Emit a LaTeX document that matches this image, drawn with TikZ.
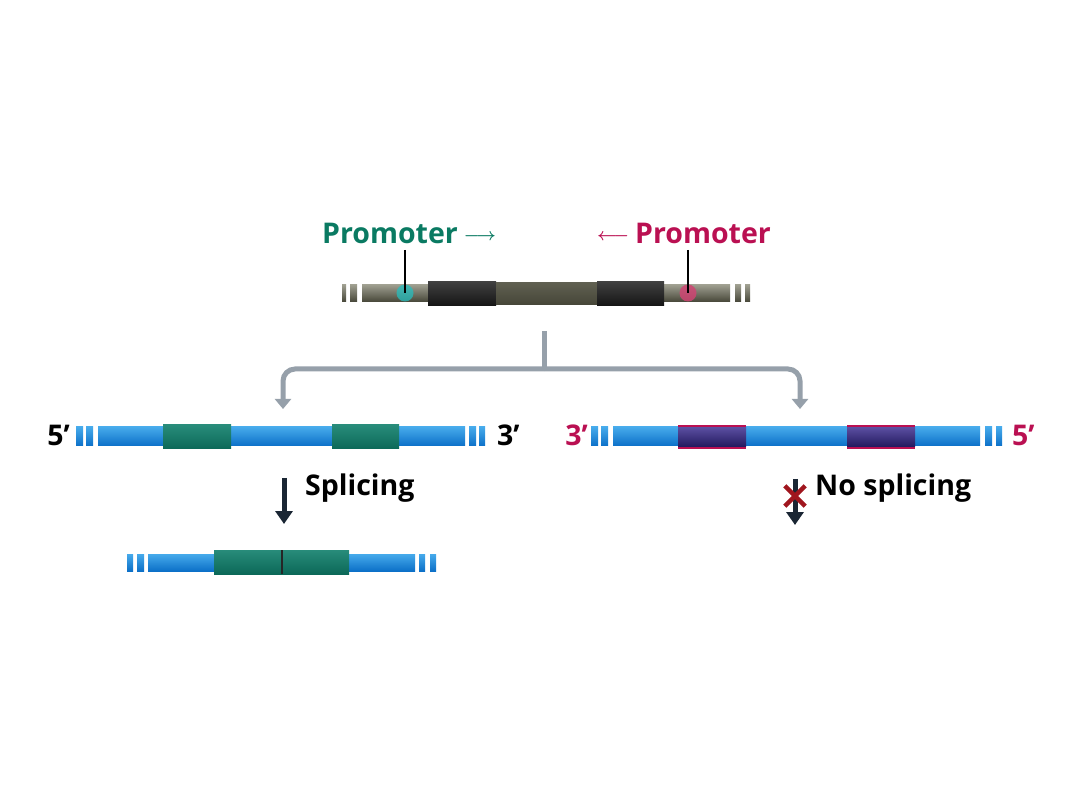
\documentclass[tikz,border=0pt]{standalone}
\usepackage{fontspec}
\setmainfont{Open Sans}
\usetikzlibrary{arrows.meta,positioning}
\definecolor{promgreen}{RGB}{10,122,98}
\definecolor{prommag}{RGB}{186,16,82}
\definecolor{rnaL}{RGB}{70,170,235}
\definecolor{rnaM}{RGB}{36,146,222}
\definecolor{rnaD}{RGB}{12,112,200}
\definecolor{exgL}{RGB}{40,140,122}
\definecolor{exgD}{RGB}{12,104,88}
\definecolor{expL}{RGB}{90,78,160}
\definecolor{expD}{RGB}{36,26,96}
\definecolor{dnaL}{RGB}{196,196,178}
\definecolor{dnaD}{RGB}{70,70,56}
\definecolor{branchgray}{RGB}{150,160,170}
\definecolor{navy}{RGB}{26,38,52}
\definecolor{stopred}{RGB}{160,22,30}
\newcommand{\promarrow}[1]{\hspace{6pt}\raisebox{3pt}{\fontsize{17}{17}\selectfont$#1$}\hspace{6pt}}

\begin{document}
\begin{tikzpicture}[x=1pt,y=-1pt,
    lbl/.style={font=\bfseries\boldmath\fontsize{28.5}{30}\selectfont,inner sep=0pt},
    rna/.style={top color=rnaL,middle color=rnaM,bottom color=rnaD},
    exg/.style={top color=exgL,bottom color=exgD},
    exp/.style={top color=expL,bottom color=expD},
    dna/.style={top color=dnaL!80!black,middle color=dnaL,bottom color=dnaD},
    dnadark/.style={top color=black!75,middle color=black!82,bottom color=black!92},
    dnamid/.style={top color=dnaD!80!dnaL,middle color=dnaD!55!dnaL,bottom color=dnaD},
    tss/.style={circle,minimum size=17pt,inner sep=0pt},
    branch/.style={line width=5pt,branchgray},
    steparrow/.style={line width=5pt,navy,-{Triangle[width=17pt,length=13pt]}}]
  \useasboundingbox (0,0) rectangle (1080,810);

  % genomic DNA with two promoters
  \shade[dna] (342,285) rectangle (346,302);
  \shade[dna] (350,285) rectangle (357,302);
  \shade[dna] (362,285) rectangle (730,302);
  \shade[dna] (735,285) rectangle (741,302);
  \shade[dna] (745,285) rectangle (750,302);
  \shade[dnadark] (428,282) rectangle (496,306);
  \shade[dnamid] (496,283) rectangle (597,305);
  \shade[dnadark] (597,282) rectangle (664,306);
  \node[tss,fill=teal!60!cyan!85!white,opacity=.75] (tssL) at (405,293) {};
  \node[tss,fill=prommag!70!pink,opacity=.85] (tssR) at (688,293) {};
  \coordinate (tssLtop) at (405,250);
  \coordinate (tssRtop) at (688,250);
  \draw[line width=2.5pt] (tssLtop)--(tssL.center);
  \draw[line width=2.5pt] (tssRtop)--(tssR.center);
  \node[lbl,text=promgreen,anchor=base west] (promL) at (322,244) {Promoter\promarrow{\longrightarrow}};
  \node[lbl,text=prommag,anchor=base east] (promR) at (771,244) {\promarrow{\longleftarrow}Promoter};

  % branching arrow
  \coordinate (stem) at (544,331);
  \coordinate (fork) at (544,369);
  \coordinate (toL) at (283,409);
  \coordinate (toR) at (800,409);
  \draw[branch] (stem)--(fork);
  \draw[branch,rounded corners=12pt,-{Triangle[width=16pt,length=10pt]}] (fork)-|(toL);
  \draw[branch,rounded corners=12pt,-{Triangle[width=16pt,length=10pt]}] (fork)-|(toR);

  % sense transcript
  \shade[rna] (76,427) rectangle (83,446);
  \shade[rna] (86,427) rectangle (93,446);
  \shade[rna] (98,427) rectangle (465,446);
  \shade[rna] (469,427) rectangle (476,446);
  \shade[rna] (479,427) rectangle (485,446);
  \shade[exg] (163,425) rectangle (231,449);
  \shade[exg] (332,425) rectangle (399,449);
  \node[lbl,anchor=base east] (fiveL) at (70,446) {5’};
  \node[lbl,anchor=base west] (threeL) at (497,446) {3’};

  % antisense transcript
  \shade[rna] (591,427) rectangle (598,446);
  \shade[rna] (601,427) rectangle (608,446);
  \shade[rna] (613,427) rectangle (980,446);
  \shade[rna] (985,427) rectangle (992,446);
  \shade[rna] (996,427) rectangle (1002,446);
  \fill[prommag] (678,425) rectangle (746,449);
  \fill[prommag] (847,425) rectangle (915,449);
  \shade[exp] (678,427.5) rectangle (746,446.5);
  \shade[exp] (847,427.5) rectangle (915,446.5);
  \node[lbl,text=prommag,anchor=base east] (threeR) at (588,446) {3’};
  \node[lbl,text=prommag,anchor=base west] (fiveR) at (1012,446) {5’};

  % splicing
  \coordinate (spTop) at (284,478);
  \coordinate (spEnd) at (284,524);
  \draw[steparrow] (spTop)--(spEnd);
  \node[lbl,anchor=base west] (splice) at (305,495) {Splicing};

  \shade[rna] (127,554) rectangle (133,571);
  \shade[rna] (137,554) rectangle (144,571);
  \shade[rna] (148,554) rectangle (415,571);
  \shade[rna] (419,554) rectangle (425,571);
  \shade[rna] (430,554) rectangle (436,571);
  \shade[exg] (214,550) rectangle (349,574);
  \draw[line width=1.5pt,black!85] (282,550)--(282,574);

  % no splicing
  \coordinate (nsTop) at (795,479);
  \coordinate (nsEnd) at (795,525);
  \draw[steparrow] (nsTop)--(nsEnd);
  \node[inner sep=0pt,minimum size=20pt] (block) at (795,496) {};
  \draw[stopred,line width=4.5pt] (block.north west)--(block.south east);
  \draw[stopred,line width=4.5pt] (block.south west)--(block.north east);
  \node[lbl,anchor=base west] (nosplice) at (815,495) {No splicing};
\end{tikzpicture}
\end{document}
